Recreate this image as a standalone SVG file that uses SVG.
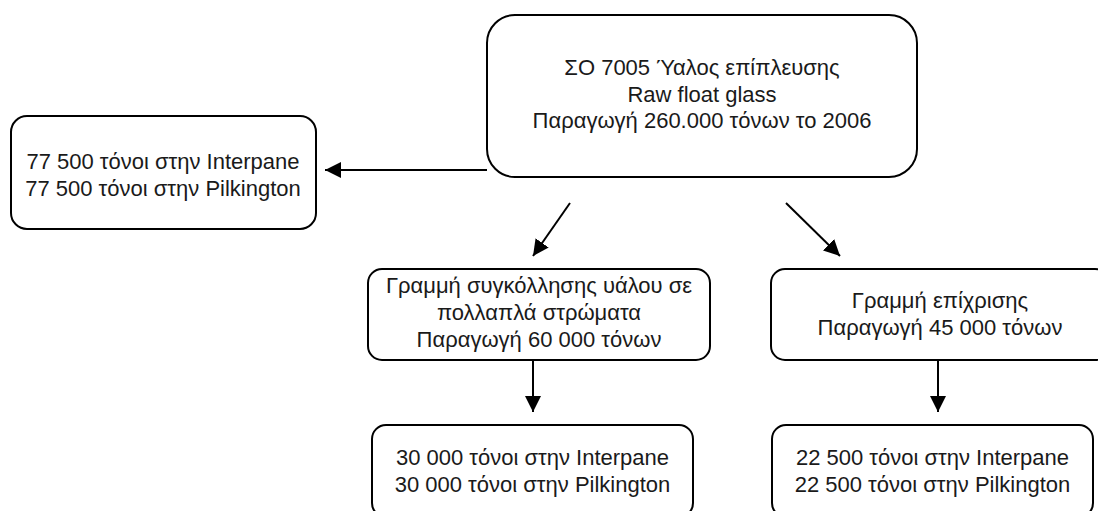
<svg xmlns="http://www.w3.org/2000/svg" width="1098" height="511" viewBox="0 0 1098 511">
<style>
.box{fill:#fff;stroke:#000;stroke-width:2}
.t{font-family:"Liberation Sans",Arial,sans-serif;font-size:22px;fill:#1a1a1a;text-anchor:middle}
.c{stroke:#000;stroke-width:2;fill:none;marker-end:url(#ah)}
</style>
<defs>
<marker id="ah" markerUnits="userSpaceOnUse" markerWidth="18" markerHeight="16" refX="16" refY="8" orient="auto">
<path d="M0,0 L16,8 L0,16 Z" fill="#000"/>
</marker>
</defs>
<rect width="1098" height="511" fill="#fff"/>
<g id="connectors">
<line class="c" x1="487" y1="170" x2="325" y2="170"/>
<line class="c" x1="570" y1="203" x2="533" y2="256"/>
<line class="c" x1="786" y1="203" x2="840" y2="256"/>
<line class="c" x1="533" y1="360" x2="533" y2="412"/>
<line class="c" x1="938" y1="360" x2="938" y2="412"/>
</g>
<g id="n-top">
<rect class="box" x="487" y="15" width="430" height="162" rx="28" ry="28"/>
<text class="t" x="702" y="75">ΣΟ 7005 Ύαλος επίπλευσης</text>
<text class="t" x="702" y="101.5">Raw float glass</text>
<text class="t" x="702" y="128">Παραγωγή 260.000 τόνων το 2006</text>
</g>
<g id="n-left">
<rect class="box" x="11" y="116" width="305" height="113" rx="16" ry="16"/>
<text class="t" x="163" y="169">77 500 τόνοι στην Interpane</text>
<text class="t" x="163" y="196">77 500 τόνοι στην Pilkington</text>
</g>
<g id="n-mid-left">
<rect class="box" x="368" y="269" width="342" height="91" rx="14" ry="14"/>
<text class="t" x="539" y="293">Γραμμή συγκόλλησης υάλου σε</text>
<text class="t" x="539" y="320">πολλαπλά στρώματα</text>
<text class="t" x="539" y="347">Παραγωγή 60 000 τόνων</text>
</g>
<g id="n-mid-right">
<rect class="box" x="771" y="269" width="338" height="91" rx="14" ry="14"/>
<text class="t" x="940" y="308">Γραμμή επίχρισης</text>
<text class="t" x="940" y="335">Παραγωγή 45 000 τόνων</text>
</g>
<g id="n-bottom-left">
<rect class="box" x="372" y="425" width="321" height="92" rx="14" ry="14"/>
<text class="t" x="532.5" y="465">30 000 τόνοι στην Interpane</text>
<text class="t" x="532.5" y="492">30 000 τόνοι στην Pilkington</text>
</g>
<g id="n-bottom-right">
<rect class="box" x="772" y="425" width="321" height="92" rx="14" ry="14"/>
<text class="t" x="932.5" y="465">22 500 τόνοι στην Interpane</text>
<text class="t" x="932.5" y="492">22 500 τόνοι στην Pilkington</text>
</g>
</svg>
